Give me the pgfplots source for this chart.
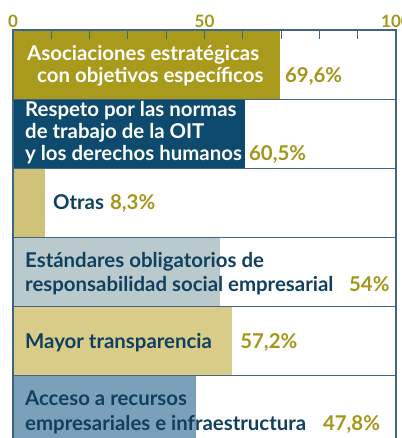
\documentclass[border=0pt]{standalone}
\usepackage{pgfplots}
\pgfplotsset{compat=1.18}
\usepackage{fontspec}
\setmainfont{Lato}
\definecolor{oliveT}{HTML}{A3961A}
\definecolor{txt}{HTML}{10405F}
\definecolor{frame}{HTML}{3F6585}
\definecolor{cA}{HTML}{A99A1C}
\definecolor{cB}{HTML}{0E4A6E}
\definecolor{cC}{HTML}{CFC278}
\definecolor{cD}{HTML}{BACACC}
\definecolor{cE}{HTML}{D8CC88}
\definecolor{cF}{HTML}{7BA0BA}
\begin{document}
\begin{tikzpicture}
\pgfresetboundingbox
\begin{axis}[
  at={(13bp,408bp)}, anchor=north west,
  scale only axis, width=383bp, height=415bp,
  xmin=0, xmax=100, ymin=-0.5, ymax=5.5, y dir=reverse,
  axis on top,
  axis line style={frame, line width=1.3pt},
  xtick={0,10,...,100},
  xticklabels={0,,,,,50,,,,,100},
  xticklabel pos=top,
  xtick pos=top,
  xtick align=inside,
  major tick length=9bp,
  tick style={frame, line width=1.2pt},
  xticklabel style={font=\fontsize{17bp}{17bp}\selectfont\bfseries, text=oliveT, yshift=-1bp},
  /pgf/number format/assume math mode=true,
  ytick={0.5,1.5,2.5,3.5,4.5},
  yticklabels={},
  major y tick style={draw=none},
  ymajorgrids,
  y grid style={frame, line width=1.3pt},
  xbar, bar width=69.2bp, bar shift=0pt,
  every axis plot/.append style={draw=none},
  clip=false,
]
\addplot[fill=cA] coordinates {(69.6,0)};
\addplot[fill=cB] coordinates {(60.5,1)};
\addplot[fill=cC] coordinates {(8.3,2)};
\addplot[fill=cD] coordinates {(54,3)};
\addplot[fill=cE] coordinates {(57.2,4)};
\addplot[fill=cF] coordinates {(47.8,5)};
\begin{scope}[every node/.style={anchor=base west, inner sep=0pt, font=\fontsize{20.4bp}{20.4bp}\selectfont\bfseries}]
\node[text=white] at (axis cs:3.66,-0.052) {Asociaciones estratégicas};
\node[text=white] at (axis cs:6.27,0.266) {con objetivos específicos};
\node[text=oliveT] at (axis cs:71.0,0.266) {69,6\%};
\node[text=white] at (axis cs:3.13,0.757) {Respeto por las normas};
\node[text=white] at (axis cs:3.13,1.075) {de trabajo de la OIT};
\node[text=white] at (axis cs:3.13,1.393) {y los derechos humanos};
\node[text=oliveT] at (axis cs:61.6,1.393) {60,5\%};
\node[text=txt] at (axis cs:10.44,2.101) {Otras};
\node[text=oliveT] at (axis cs:25.3,2.101) {8,3\%};
\node[text=txt] at (axis cs:3.13,2.939) {Estándares obligatorios de};
\node[text=txt] at (axis cs:3.13,3.286) {responsabilidad social empresarial};
\node[text=oliveT] at (axis cs:87.7,3.286) {54\%};
\node[text=txt] at (axis cs:3.13,4.110) {Mayor transparencia};
\node[text=oliveT] at (axis cs:59.3,4.110) {57,2\%};
\node[text=txt] at (axis cs:3.13,4.934) {Acceso a recursos};
\node[text=txt] at (axis cs:3.13,5.295) {empresariales e infraestructura};
\node[text=oliveT] at (axis cs:80.9,5.295) {47,8\%};
\end{scope}
\end{axis}
\pgfresetboundingbox
\path[use as bounding box] (0,0) rectangle (402bp,438bp);
\end{tikzpicture}
\end{document}
